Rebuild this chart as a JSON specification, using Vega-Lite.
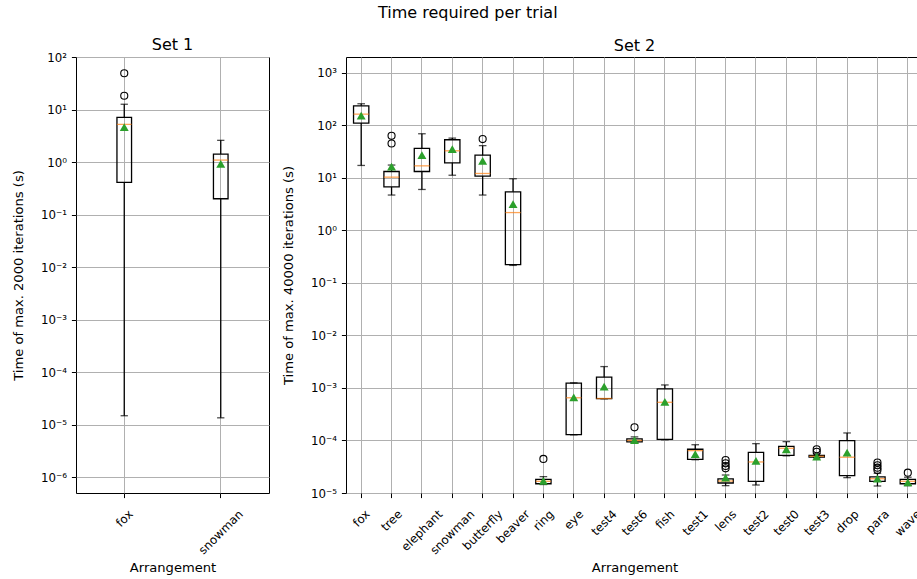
{
  "$schema": "https://vega.github.io/schema/vega-lite/v6.json",
  "background": "white",
  "padding": {"left": 11, "top": 4, "right": 0, "bottom": 0},
  "title": {"text": "Time required per trial", "fontSize": 16, "fontWeight": "normal", "anchor": "middle", "offset": 16, "color": "black"},
  "datasets": {
    "s1": [
      {"name": "fox", "lo": 1.48e-5, "q1": 0.41, "med": 5.2, "q3": 7.1, "hi": 12.6, "mean": 4.6},
      {"name": "snowman", "lo": 1.35e-5, "q1": 0.2, "med": 1.09, "q3": 1.42, "hi": 2.59, "mean": 0.92}
    ],
    "s1o": [
      {"name": "fox", "v": 18.3},
      {"name": "fox", "v": 49}
    ],
    "s2": [
      {"name": "fox", "lo": 17.2, "q1": 110, "med": 163, "q3": 235, "hi": 257, "mean": 152},
      {"name": "tree", "lo": 4.7, "q1": 6.7, "med": 10.3, "q3": 13.2, "hi": 17.5, "mean": 16.4},
      {"name": "elephant", "lo": 6.0, "q1": 13.2, "med": 16.9, "q3": 36.2, "hi": 69, "mean": 27},
      {"name": "snowman", "lo": 11.2, "q1": 19.3, "med": 32.7, "q3": 53, "hi": 57, "mean": 35.2},
      {"name": "butterfly", "lo": 4.7, "q1": 10.8, "med": 12.1, "q3": 27, "hi": 41, "mean": 21.1},
      {"name": "beaver", "lo": 0.215, "q1": 0.223, "med": 2.18, "q3": 5.4, "hi": 9.6, "mean": 3.15},
      {"name": "ring", "lo": 1.45e-5, "q1": 1.5e-5, "med": 1.67e-5, "q3": 1.82e-5, "hi": 2.05e-5, "mean": 1.7e-5},
      {"name": "eye", "lo": 1.28e-4, "q1": 1.29e-4, "med": 6.5e-4, "q3": 1.23e-3, "hi": 1.25e-3, "mean": 6.6e-4},
      {"name": "test4", "lo": 6.2e-4, "q1": 6.27e-4, "med": 6.3e-4, "q3": 1.6e-3, "hi": 2.55e-3, "mean": 1.06e-3},
      {"name": "test6", "lo": 9.2e-5, "q1": 9.4e-5, "med": 1.0e-4, "q3": 1.07e-4, "hi": 1.17e-4, "mean": 1.01e-4},
      {"name": "fish", "lo": 1.03e-4, "q1": 1.05e-4, "med": 5.33e-4, "q3": 9.6e-4, "hi": 1.14e-3, "mean": 5.4e-4},
      {"name": "test1", "lo": 4.3e-5, "q1": 4.35e-5, "med": 6.4e-5, "q3": 6.8e-5, "hi": 8.3e-5, "mean": 5.5e-5},
      {"name": "lens", "lo": 1.38e-5, "q1": 1.55e-5, "med": 1.69e-5, "q3": 1.85e-5, "hi": 2.2e-5, "mean": 1.96e-5},
      {"name": "test2", "lo": 1.42e-5, "q1": 1.67e-5, "med": 3.9e-5, "q3": 5.95e-5, "hi": 8.7e-5, "mean": 4.1e-5},
      {"name": "test0", "lo": 5.1e-5, "q1": 5.2e-5, "med": 7.1e-5, "q3": 7.7e-5, "hi": 9.5e-5, "mean": 6.8e-5},
      {"name": "test3", "lo": 4.7e-5, "q1": 4.8e-5, "med": 5.0e-5, "q3": 5.2e-5, "hi": 5.6e-5, "mean": 4.95e-5},
      {"name": "drop", "lo": 1.96e-5, "q1": 2.14e-5, "med": 4.8e-5, "q3": 9.9e-5, "hi": 1.39e-4, "mean": 5.86e-5},
      {"name": "para", "lo": 1.36e-5, "q1": 1.67e-5, "med": 1.87e-5, "q3": 2.02e-5, "hi": 2.37e-5, "mean": 1.88e-5},
      {"name": "wave", "lo": 1.38e-5, "q1": 1.5e-5, "med": 1.67e-5, "q3": 1.82e-5, "hi": 2.0e-5, "mean": 1.6e-5}
    ],
    "s2o": [
      {"name": "tree", "v": 63},
      {"name": "tree", "v": 45},
      {"name": "butterfly", "v": 54.6},
      {"name": "ring", "v": 4.45e-5},
      {"name": "test6", "v": 1.78e-4},
      {"name": "lens", "v": 4.25e-5},
      {"name": "lens", "v": 3.67e-5},
      {"name": "lens", "v": 3.27e-5},
      {"name": "lens", "v": 2.95e-5},
      {"name": "test3", "v": 6.8e-5},
      {"name": "test3", "v": 6.1e-5},
      {"name": "para", "v": 3.8e-5},
      {"name": "para", "v": 3.37e-5},
      {"name": "para", "v": 3.03e-5},
      {"name": "para", "v": 2.74e-5},
      {"name": "wave", "v": 2.44e-5}
    ]
  },
  "spacing": 77,
  "bounds": "flush",
  "hconcat": [
    {
      "width": 193,
      "height": 436,
      "title": {"text": "Set 1", "frame": "group", "offset": -1},
      "encoding": {
        "x": {
          "field": "name", "type": "nominal",
          "scale": {"domain": ["fox", "snowman"], "paddingInner": 0, "paddingOuter": 0},
          "axis": {
            "title": "Arrangement", "grid": true, "bandPosition": 0.5,
            "labelAngle": -45, "labelAlign": "right", "labelBaseline": "middle", "labelPadding": 14,
            "labelOffset": {"condition": [
              {"test": "datum.value === 'fox'", "value": 6.5},
              {"test": "datum.value === 'snowman'", "value": 20.1}
            ], "value": 0},
            "titlePadding": 5
          }
        }
      },
      "layer": [
        {
          "data": {"name": "s1"},
          "mark": {"type": "rule", "color": "black", "strokeWidth": 1.3},
          "encoding": {
            "y": {"field": "lo", "type": "quantitative",
              "scale": {"type": "log", "domain": [5.0e-7, 100], "nice": false},
              "axis": {"title": "Time of max. 2000 iterations (s)", "grid": true,
                "values": [1e-6, 1e-5, 1e-4, 1e-3, 1e-2, 1e-1, 1, 10, 100],
                "labelExpr": "'10' + replace(replace(replace(replace(replace(replace(replace(replace(replace(replace(replace(toString(round(log(datum.value)/LN10)),'-','⁻'),'0','⁰'),'1','¹'),'2','²'),'3','³'),'4','⁴'),'5','⁵'),'6','⁶'),'7','⁷'),'8','⁸'),'9','⁹')",
                "titlePadding": 15}},
            "y2": {"field": "q1"}
          }
        },
        {
          "data": {"name": "s1"},
          "mark": {"type": "rule", "color": "black", "strokeWidth": 1.3},
          "encoding": {"y": {"field": "q3", "type": "quantitative"}, "y2": {"field": "hi"}}
        },
        {
          "data": {"name": "s1"},
          "mark": {"type": "tick", "color": "black", "size": 7.3, "thickness": 1.3},
          "encoding": {"y": {"field": "lo", "type": "quantitative"}}
        },
        {
          "data": {"name": "s1"},
          "mark": {"type": "tick", "color": "black", "size": 7.3, "thickness": 1.3},
          "encoding": {"y": {"field": "hi", "type": "quantitative"}}
        },
        {
          "data": {"name": "s1"},
          "mark": {"type": "bar", "fill": "transparent", "stroke": "black", "strokeWidth": 1.3, "size": 14.6},
          "encoding": {"y": {"field": "q1", "type": "quantitative"}, "y2": {"field": "q3"}}
        },
        {
          "data": {"name": "s1"},
          "mark": {"type": "tick", "color": "#ff7f0e", "size": 14.6, "thickness": 1.3},
          "encoding": {"y": {"field": "med", "type": "quantitative"}}
        },
        {
          "data": {"name": "s1o"},
          "mark": {"type": "point", "shape": "circle", "filled": false, "color": "black", "size": 50, "strokeWidth": 1.1, "opacity": 1},
          "encoding": {"y": {"field": "v", "type": "quantitative"}}
        },
        {
          "data": {"name": "s1"},
          "mark": {"type": "point", "shape": "triangle-up", "filled": true, "color": "#2ca02c", "size": 80, "opacity": 1},
          "encoding": {"y": {"field": "mean", "type": "quantitative"}}
        }
      ]
    },
    {
      "width": 577,
      "height": 436,
      "title": {"text": "Set 2", "frame": "group", "offset": 3},
      "encoding": {
        "x": {
          "field": "name", "type": "nominal",
          "scale": {"domain": ["fox", "tree", "elephant", "snowman", "butterfly", "beaver", "ring", "eye", "test4", "test6", "fish", "test1", "lens", "test2", "test0", "test3", "drop", "para", "wave"], "paddingInner": 0, "paddingOuter": 0},
          "axis": {
            "title": "Arrangement", "grid": true, "bandPosition": 0.5,
            "labelAngle": -45, "labelAlign": "right", "labelBaseline": "middle", "labelPadding": 14,
            "labelOffset": {"condition": [
              {"test": "datum.value === 'fox'", "value": 6.5},
              {"test": "datum.value === 'tree'", "value": 8.5},
              {"test": "datum.value === 'elephant'", "value": 18.4},
              {"test": "datum.value === 'snowman'", "value": 20.1},
              {"test": "datum.value === 'butterfly'", "value": 18.0},
              {"test": "datum.value === 'beaver'", "value": 14.5},
              {"test": "datum.value === 'ring'", "value": 8.2},
              {"test": "datum.value === 'eye'", "value": 7.6},
              {"test": "datum.value === 'fish'", "value": 7.5},
              {"test": "datum.value === 'lens'", "value": 8.6},
              {"test": "datum.value === 'drop'", "value": 9.6},
              {"test": "datum.value === 'para'", "value": 9.5},
              {"test": "datum.value === 'wave'", "value": 11.0}
            ], "value": 10.7},
            "titlePadding": 5
          }
        }
      },
      "layer": [
        {
          "data": {"name": "s2"},
          "mark": {"type": "rule", "color": "black", "strokeWidth": 1.3},
          "encoding": {
            "y": {"field": "lo", "type": "quantitative",
              "scale": {"type": "log", "domain": [1e-5, 1995], "nice": false},
              "axis": {"title": "Time of max. 40000 iterations (s)", "grid": true,
                "values": [1e-5, 1e-4, 1e-3, 1e-2, 1e-1, 1, 10, 100, 1000],
                "labelExpr": "'10' + replace(replace(replace(replace(replace(replace(replace(replace(replace(replace(replace(toString(round(log(datum.value)/LN10)),'-','⁻'),'0','⁰'),'1','¹'),'2','²'),'3','³'),'4','⁴'),'5','⁵'),'6','⁶'),'7','⁷'),'8','⁸'),'9','⁹')",
                "titlePadding": 15}},
            "y2": {"field": "q1"}
          }
        },
        {
          "data": {"name": "s2"},
          "mark": {"type": "rule", "color": "black", "strokeWidth": 1.3},
          "encoding": {"y": {"field": "q3", "type": "quantitative"}, "y2": {"field": "hi"}}
        },
        {
          "data": {"name": "s2"},
          "mark": {"type": "tick", "color": "black", "size": 7.6, "thickness": 1.3},
          "encoding": {"y": {"field": "lo", "type": "quantitative"}}
        },
        {
          "data": {"name": "s2"},
          "mark": {"type": "tick", "color": "black", "size": 7.6, "thickness": 1.3},
          "encoding": {"y": {"field": "hi", "type": "quantitative"}}
        },
        {
          "data": {"name": "s2"},
          "mark": {"type": "bar", "fill": "transparent", "stroke": "black", "strokeWidth": 1.3, "size": 15.3},
          "encoding": {"y": {"field": "q1", "type": "quantitative"}, "y2": {"field": "q3"}}
        },
        {
          "data": {"name": "s2"},
          "mark": {"type": "tick", "color": "#ff7f0e", "size": 15.3, "thickness": 1.3},
          "encoding": {"y": {"field": "med", "type": "quantitative"}}
        },
        {
          "data": {"name": "s2o"},
          "mark": {"type": "point", "shape": "circle", "filled": false, "color": "black", "size": 50, "strokeWidth": 1.1, "opacity": 1},
          "encoding": {"y": {"field": "v", "type": "quantitative"}}
        },
        {
          "data": {"name": "s2"},
          "mark": {"type": "point", "shape": "triangle-up", "filled": true, "color": "#2ca02c", "size": 80, "opacity": 1},
          "encoding": {"y": {"field": "mean", "type": "quantitative"}}
        }
      ]
    }
  ],
  "config": {
    "font": "DejaVu Sans",
    "view": {"stroke": "black", "strokeWidth": 1},
    "axis": {
      "labelFont": "DejaVu Sans", "titleFont": "DejaVu Sans",
      "labelFontSize": 11.8, "titleFontSize": 13.1, "titleFontWeight": "normal",
      "labelColor": "black", "titleColor": "black", "tickColor": "black",
      "tickWidth": 1, "tickSize": 4.6, "domain": false,
      "gridColor": "#b0b0b0", "gridWidth": 1, "labelPadding": 5
    },
    "title": {"fontSize": 16, "fontWeight": "normal", "color": "black"}
  }
}
